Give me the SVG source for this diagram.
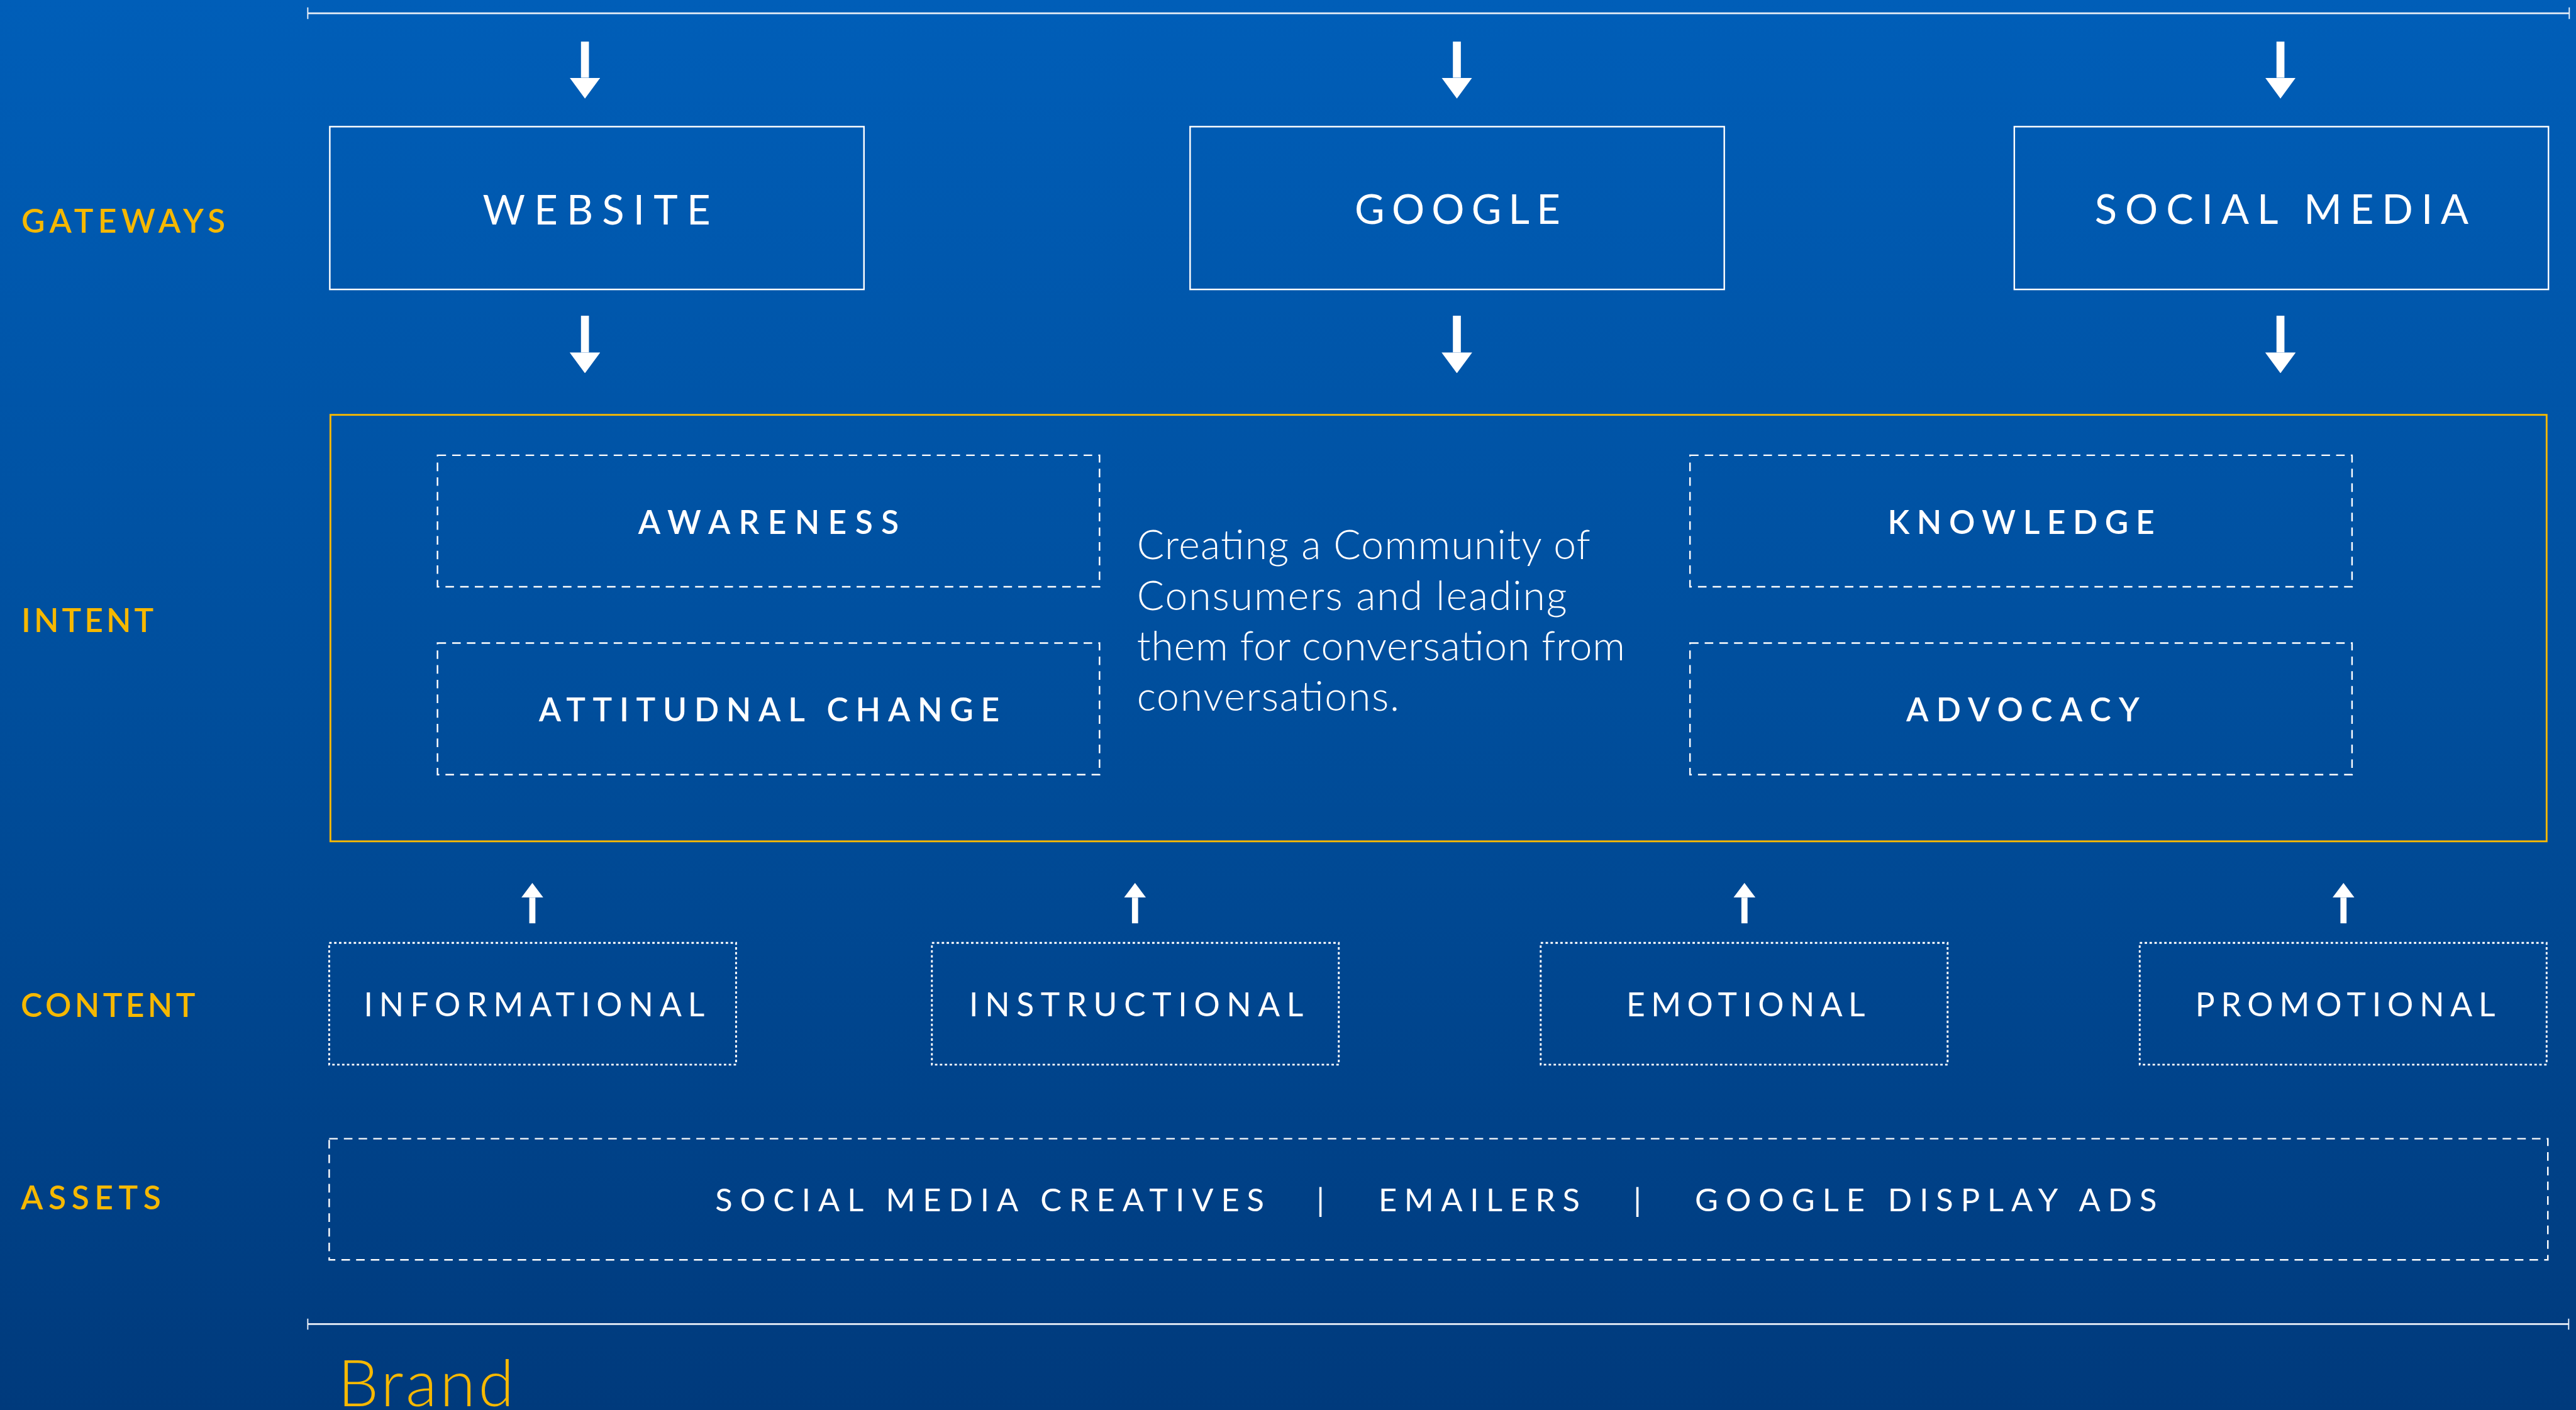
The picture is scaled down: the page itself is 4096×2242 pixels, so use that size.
<svg xmlns="http://www.w3.org/2000/svg" width="4096" height="2242" viewBox="0 0 4096 2242">
  <defs>
    <linearGradient id="bgGrad" x1="0" y1="0" x2="0" y2="1">
      <stop offset="0" stop-color="#005EB8"/>
      <stop offset="0.5" stop-color="#004E9C"/>
      <stop offset="1" stop-color="#003A7C"/>
    </linearGradient>
    <marker id="headBig" markerUnits="userSpaceOnUse" viewBox="0 0 34 50" markerWidth="34" markerHeight="50" refX="0" refY="25" orient="auto">
      <path d="M0,0 L34,25 L0,50 Z" fill="#FFFFFF"/>
    </marker>
    <marker id="headSmall" markerUnits="userSpaceOnUse" viewBox="0 0 24 36" markerWidth="24" markerHeight="36" refX="0" refY="18" orient="auto">
      <path d="M0,0 L24,18 L0,36 Z" fill="#FFFFFF"/>
    </marker>
    <style>
      text { font-family: "Lato", "Open Sans", "Liberation Sans", sans-serif; }
      .lbl { font-size: 53px; font-weight: 600; fill: #F6B800; }
      .gw { font-size: 67px; font-weight: 400; fill: #FFFFFF; text-anchor: middle; }
      .it { font-size: 53px; font-weight: 600; fill: #FFFFFF; text-anchor: middle; }
      .ct { font-size: 53px; font-weight: 400; fill: #FFFFFF; text-anchor: middle; }
      .as { font-size: 52px; font-weight: 400; fill: #FFFFFF; }
      .para { font-size: 66px; font-weight: 300; fill: #FFFFFF; }
      .brand { font-size: 106px; font-weight: 300; fill: #F6B800; }
      .solid { fill: none; stroke: #FFFFFF; stroke-width: 2.5; }
      .dash { fill: none; stroke: #FFFFFF; stroke-width: 2.5; stroke-dasharray: 14 10; }
      .dot { fill: none; stroke: #FFFFFF; stroke-width: 3; stroke-dasharray: 4 4; }
      .frame { fill: none; stroke: #F6B800; stroke-width: 3; }
      .rule { fill: none; stroke: #EAF0F8; stroke-width: 3; }
      .tick { fill: none; stroke: #EAF0F8; stroke-width: 2; }
      .down { stroke: #FFFFFF; stroke-width: 13; marker-end: url(#headBig); }
      .up { stroke: #FFFFFF; stroke-width: 10; marker-end: url(#headSmall); }
    </style>
  </defs>

  <rect x="0" y="0" width="4096" height="2242" fill="url(#bgGrad)"/>

  <g transform="scale(0.97292)">
    <!-- horizontal rules framing the layout -->
    <g id="rules">
      <path class="rule" d="M503,21.7 H4199"/>
      <path class="tick" d="M503,12 V31 M4199,12 V31"/>
      <path class="rule" d="M503,2164 H4198"/>
      <path class="tick" d="M503,2155 V2173 M4198,2155 V2173"/>
    </g>

    <!-- row labels -->
    <g id="row-labels">
      <text class="lbl" x="35" y="380" textLength="333">GATEWAYS</text>
      <text class="lbl" x="35" y="1033" textLength="216">INTENT</text>
      <text class="lbl" x="34" y="1662" textLength="285">CONTENT</text>
      <text class="lbl" x="34" y="1977" textLength="229">ASSETS</text>
    </g>

    <!-- gateways -->
    <g id="website">
      <rect class="solid" x="539" y="207" width="873" height="266"/>
      <text class="gw" x="975" y="367" textLength="372">WEBSITE</text>
    </g>
    <g id="google">
      <rect class="solid" x="1945" y="207" width="873" height="266"/>
      <text class="gw" x="2382" y="366" textLength="336">GOOGLE</text>
    </g>
    <g id="social-media">
      <rect class="solid" x="3292" y="207" width="873" height="266"/>
      <text class="gw" x="3729" y="366" textLength="611">SOCIAL MEDIA</text>
    </g>

    <!-- intent -->
    <g id="intent">
      <rect class="frame" x="540" y="678" width="3622" height="697"/>
    </g>
    <g id="awareness">
      <rect class="dash" x="715" y="744" width="1082" height="215"/>
      <text class="it" x="1256" y="873" textLength="426">AWARENESS</text>
    </g>
    <g id="attitudinal-change">
      <rect class="dash" x="715" y="1051" width="1082" height="215"/>
      <text class="it" x="1257" y="1179" textLength="753">ATTITUDNAL CHANGE</text>
    </g>
    <g id="knowledge">
      <rect class="dash" x="2762" y="744" width="1082" height="215"/>
      <text class="it" x="3303" y="873" textLength="436">KNOWLEDGE</text>
    </g>
    <g id="advocacy">
      <rect class="dash" x="2762" y="1051" width="1082" height="215"/>
      <text class="it" x="3306" y="1179" textLength="381">ADVOCACY</text>
    </g>
    <g id="intent-statement">
      <text class="para" x="1858" y="914" textLength="741">Creating a Community of</text>
      <text class="para" x="1858" y="997" textLength="703">Consumers and leading</text>
      <text class="para" x="1858" y="1079" textLength="798">them for conversation from</text>
      <text class="para" x="1858" y="1161" textLength="429">conversations.</text>
    </g>

    <!-- content -->
    <g id="informational">
      <rect class="dot" x="538" y="1541" width="665" height="199"/>
      <text class="ct" x="873" y="1661" textLength="557">INFORMATIONAL</text>
    </g>
    <g id="instructional">
      <rect class="dot" x="1523" y="1541" width="665" height="199"/>
      <text class="ct" x="1857" y="1661" textLength="546">INSTRUCTIONAL</text>
    </g>
    <g id="emotional">
      <rect class="dot" x="2518" y="1541" width="665" height="199"/>
      <text class="ct" x="2853" y="1661" textLength="390">EMOTIONAL</text>
    </g>
    <g id="promotional">
      <rect class="dot" x="3497" y="1541" width="665" height="199"/>
      <text class="ct" x="3833" y="1661" textLength="490">PROMOTIONAL</text>
    </g>

    <!-- assets -->
    <g id="assets">
      <rect class="dash" x="538" y="1861" width="3626" height="198"/>
      <text class="as" x="1169" y="1980" textLength="897">SOCIAL MEDIA CREATIVES</text>
      <text class="as" x="2158" y="1980" text-anchor="middle">|</text>
      <text class="as" x="2253" y="1980" textLength="329">EMAILERS</text>
      <text class="as" x="2676" y="1980" text-anchor="middle">|</text>
      <text class="as" x="2770" y="1980" textLength="755">GOOGLE DISPLAY ADS</text>
    </g>

    <g id="brand">
      <text class="brand" x="552" y="2298" textLength="288">Brand</text>
    </g>

    <!-- connectors -->
    <g id="connectors">
      <line class="down" x1="956" y1="68" x2="956" y2="127"/>
      <line class="down" x1="2381" y1="68" x2="2381" y2="127"/>
      <line class="down" x1="3727" y1="68" x2="3727" y2="127"/>
      <line class="down" x1="956" y1="516" x2="956" y2="576"/>
      <line class="down" x1="2381" y1="516" x2="2381" y2="576"/>
      <line class="down" x1="3727" y1="516" x2="3727" y2="576"/>
      <line class="up" x1="870" y1="1509" x2="870" y2="1467"/>
      <line class="up" x1="1855" y1="1509" x2="1855" y2="1467"/>
      <line class="up" x1="2851" y1="1509" x2="2851" y2="1467"/>
      <line class="up" x1="3830" y1="1509" x2="3830" y2="1467"/>
    </g>
  </g>
</svg>
